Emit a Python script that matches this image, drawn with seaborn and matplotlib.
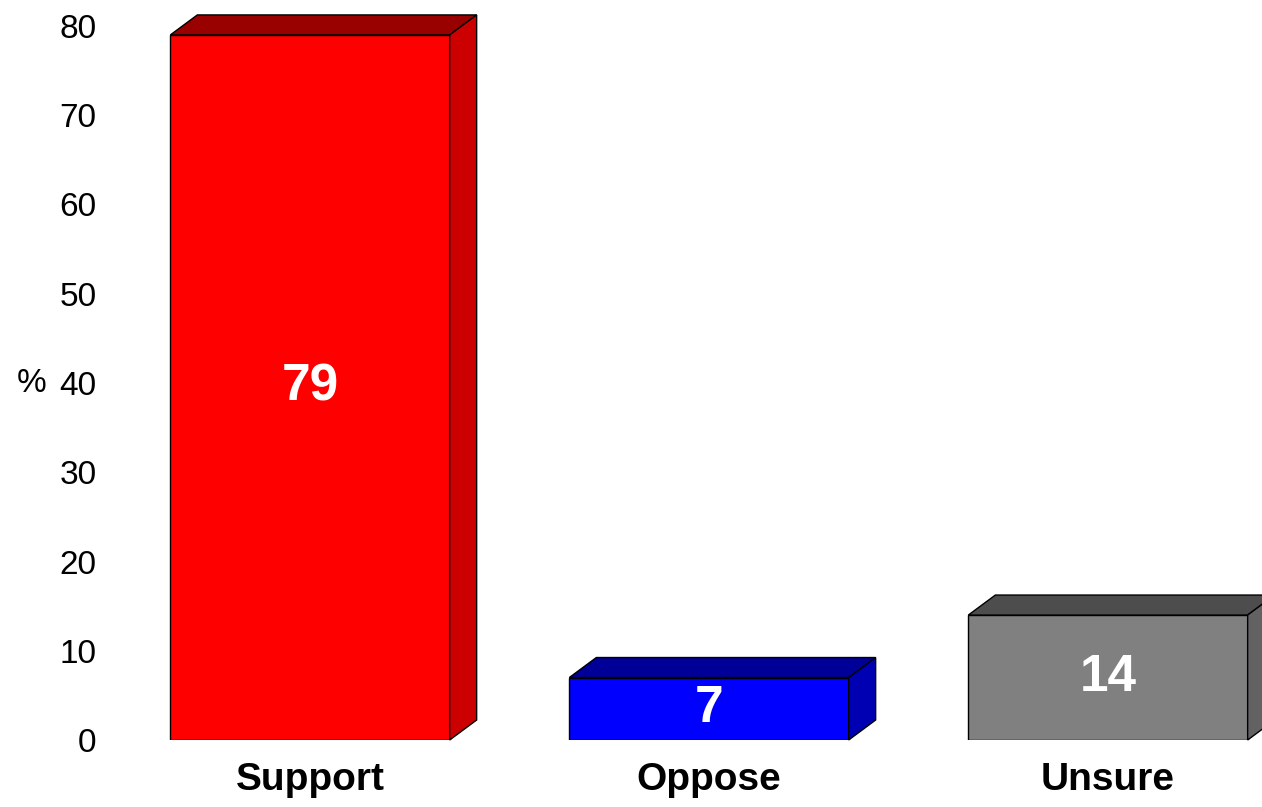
import matplotlib
matplotlib.use("Agg")
import matplotlib.pyplot as plt
from matplotlib.patches import Polygon
import pandas as pd
import seaborn as sns

categories = ["Support", "Oppose", "Unsure"]
values = [79, 7, 14]
front_colors = ["#FF0000", "#0000FF", "#808080"]
side_colors = ["#CC0000", "#0000B3", "#626262"]
top_colors = ["#990000", "#000099", "#4D4D4D"]
y_ticks = [0, 10, 20, 30, 40, 50, 60, 70, 80]

sns.set_theme(style="white")
plt.rcParams["font.family"] = ["Liberation Sans", "DejaVu Sans"]

df = pd.DataFrame({"category": categories, "value": values})

fig = plt.figure(figsize=(12.62, 8.07), dpi=100)
W, H = 1262, 807
left_px, right_px = 110.5, 1262
ax = fig.add_axes([left_px / W, 67 / H, (right_px - left_px) / W, 714 / H])

sns.barplot(
    data=df, x="category", y="value", hue="category",
    palette=dict(zip(categories, front_colors)), legend=False,
    width=0.7, edgecolor="black", linewidth=1.0, saturation=1, ax=ax,
)

unit_px = 399.0
ax.set_xlim(-0.5, -0.5 + (right_px - left_px) / unit_px)
ax.set_ylim(0, 80)

# 3D depth faces
dx = 27 / unit_px
dy = 20 / (714 / 80)
for p, sc, tc in zip(ax.patches, side_colors, top_colors):
    x0 = p.get_x()
    w = p.get_width()
    h = p.get_height()
    top = Polygon([(x0, h), (x0 + dx, h + dy), (x0 + w + dx, h + dy), (x0 + w, h)],
                  closed=True, facecolor=tc, edgecolor="black", linewidth=1.0, clip_on=False)
    side = Polygon([(x0 + w, 0), (x0 + w + dx, dy), (x0 + w + dx, h + dy), (x0 + w, h)],
                   closed=True, facecolor=sc, edgecolor="black", linewidth=1.0, clip_on=False)
    ax.add_patch(top)
    ax.add_patch(side)

for i, v in enumerate(values):
    ax.text(i, v / 2, str(v), ha="center", va="center", color="white",
            fontsize=37, fontweight="bold")

ax.set_yticks(y_ticks)
ax.set_yticklabels([str(t) for t in y_ticks], fontsize=24)
ax.tick_params(axis="y", length=0, pad=10, colors="black")
ax.tick_params(axis="x", length=0, pad=16, labelsize=28, colors="black")
for lbl in ax.get_xticklabels():
    lbl.set_fontweight("bold")
ax.set_xlabel("")
ax.set_ylabel("")
# "%" sits to the left of the 40 tick
ax.text(-0.056, 40, "%", transform=ax.get_yaxis_transform(), ha="right", va="center",
        fontsize=24, color="black")
sns.despine(ax=ax, left=True, bottom=True)
ax.grid(False)

fig.savefig("out.png", dpi=100)
